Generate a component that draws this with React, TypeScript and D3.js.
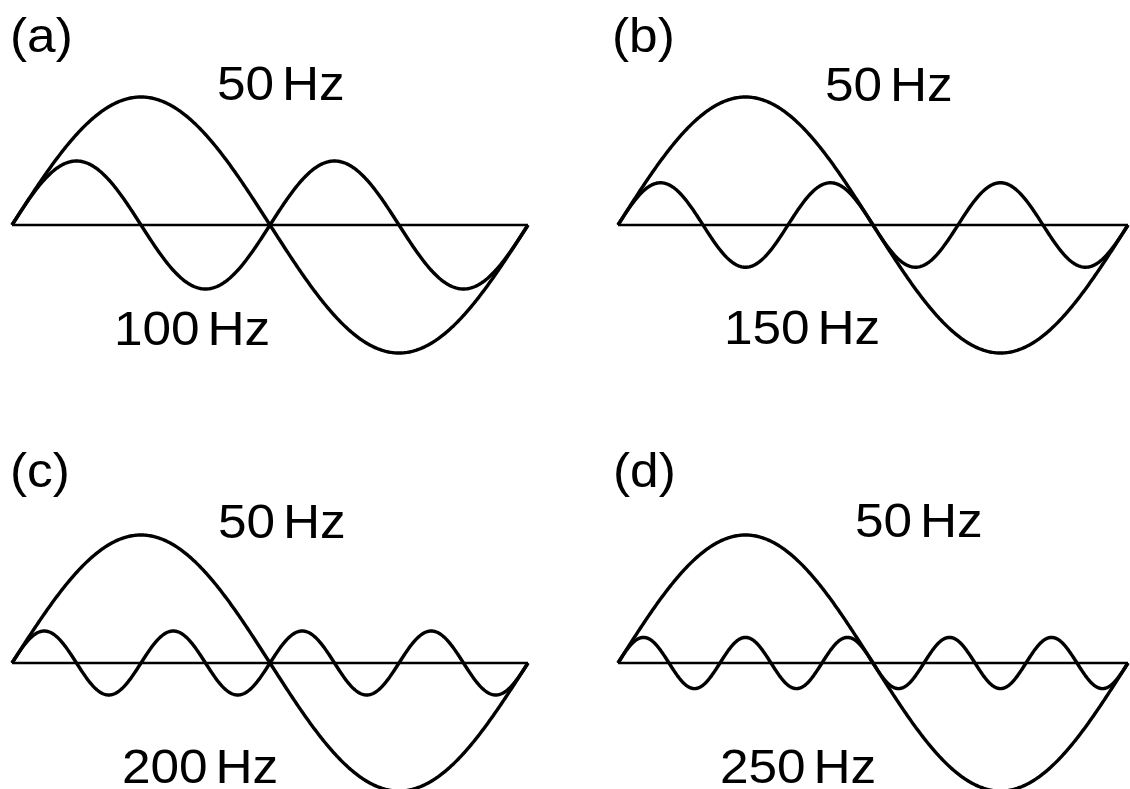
import React from "react";
import * as d3 from "d3";

// ---- data ----
const panelLabels = ["(a)", "(b)", "(c)", "(d)"];
const fundamentalFreq = 50; // Hz
const fundamentalAmp = 1;
const harmonicFreqs = [100, 150, 200, 250]; // Hz
const harmonicAmps = [0.5, 0.33, 0.25, 0.2]; // relative to fundamental
const fundamentalLabels = ["50 Hz", "50 Hz", "50 Hz", "50 Hz"];
const harmonicLabels = ["100 Hz", "150 Hz", "200 Hz", "250 Hz"];

// ---- layout ----
const W = 1130;
const H = 789;
const panels = [
  { x0: 12, x1: 528, y0: 225, f50: [217, 100], fh: [114, 345], lab: [10, 52] },
  { x0: 618, x1: 1128, y0: 225, f50: [825, 101], fh: [724, 344], lab: [612, 52] },
  { x0: 12, x1: 528, y0: 663, f50: [218, 538], fh: [122, 783], lab: [10, 487] },
  { x0: 618, x1: 1128, y0: 663, f50: [855, 537], fh: [720, 783], lab: [613, 487] },
];
const AMP_PX = 128;
const FONT = "'Liberation Sans', Arial, Helvetica, sans-serif";
const FS = 48;
const SX = 1.07;

function wave(freq: number, amp: number, t: number) {
  return amp * Math.sin(2 * Math.PI * freq * t);
}

function Label({ x, y, text }: { x: number; y: number; text: string }) {
  return (
    <text
      transform={`translate(${x},${y}) scale(${SX},1)`}
      fontFamily={FONT}
      fontSize={FS}
      fill="#000"
      style={{ wordSpacing: "-6px" }}
    >
      {text}
    </text>
  );
}

export default function App() {
  const period = 1 / fundamentalFreq;
  const times = d3.range(0, 401).map((i) => (i / 400) * period);
  return (
    <svg
      width={W}
      height={H}
      viewBox={`0 0 ${W} ${H}`}
      style={{ position: "fixed", left: 0, top: 0, background: "#fff" }}
    >
      <rect x={0} y={0} width={W} height={H} fill="#fff" />
      {panels.map((p, i) => {
        const x = d3.scaleLinear().domain([0, period]).range([p.x0, p.x1]);
        const y = d3
          .scaleLinear()
          .domain([-1, 1])
          .range([p.y0 + AMP_PX, p.y0 - AMP_PX]);
        const line = d3
          .line<number>()
          .x((t) => x(t))
          .curve(d3.curveLinear);
        const fund = line.y((t) => y(wave(fundamentalFreq, fundamentalAmp, t)))(times) || "";
        const harm = line.y((t) => y(wave(harmonicFreqs[i], harmonicAmps[i], t)))(times) || "";
        return (
          <g key={i}>
            <line
              x1={x(0)}
              x2={x(period)}
              y1={y(0)}
              y2={y(0)}
              stroke="#000"
              strokeWidth={2.4}
            />
            <path d={fund} fill="none" stroke="#000" strokeWidth={3.4} strokeLinejoin="round" />
            <path d={harm} fill="none" stroke="#000" strokeWidth={3.4} strokeLinejoin="round" />
            <Label x={p.lab[0]} y={p.lab[1]} text={panelLabels[i]} />
            <Label x={p.f50[0]} y={p.f50[1]} text={fundamentalLabels[i]} />
            <Label x={p.fh[0]} y={p.fh[1]} text={harmonicLabels[i]} />
          </g>
        );
      })}
    </svg>
  );
}
